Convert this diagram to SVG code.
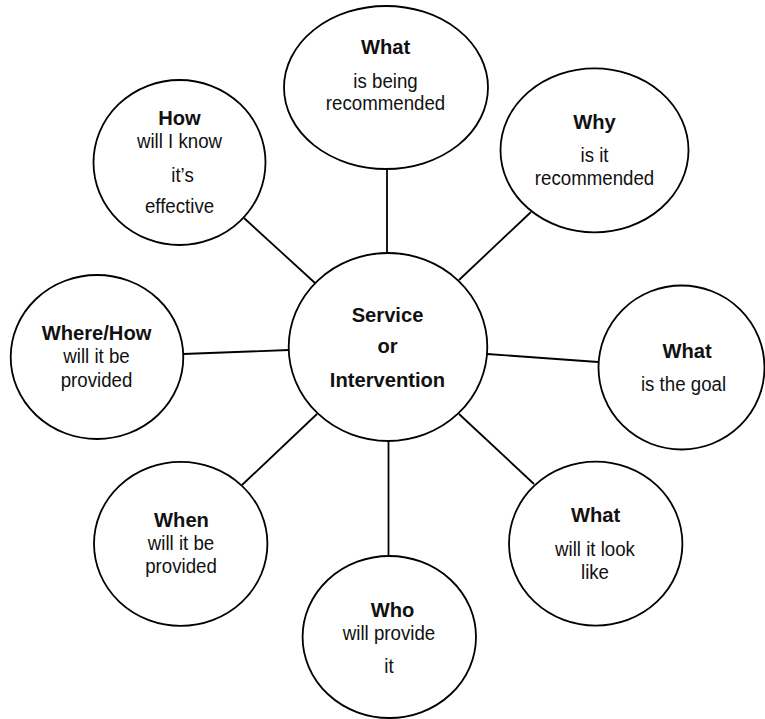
<svg xmlns="http://www.w3.org/2000/svg" width="765" height="719" viewBox="0 0 765 719">
<style>
.n{fill:#fff;stroke:#000;stroke-width:1.8}
.c line{stroke:#000;stroke-width:1.8}
text{font-family:"Liberation Sans",Arial,sans-serif;fill:#111;text-anchor:middle}
.b{font-weight:bold;font-size:21px}
.r{font-size:21px}
</style>
<rect width="765" height="719" fill="#fff"/>
<g class="c" id="connectors">
<line x1="387" y1="169" x2="387" y2="253"/>
<line x1="244" y1="218" x2="315" y2="283"/>
<line x1="531" y1="212" x2="459" y2="280"/>
<line x1="183" y1="354" x2="289" y2="350"/>
<line x1="487" y1="354" x2="598" y2="362"/>
<line x1="459" y1="414" x2="534" y2="484"/>
<line x1="317" y1="414" x2="242" y2="485"/>
<line x1="388.5" y1="441" x2="388.5" y2="556"/>
</g>
<g id="center">
<ellipse class="n" cx="388" cy="347" rx="99.3" ry="94"/>
<text class="b" transform="translate(387.5,321.7) scale(0.96,1)">Service</text>
<text class="b" transform="translate(387.5,353.3) scale(0.96,1)">or</text>
<text class="b" transform="translate(387.5,386.7) scale(0.96,1)">Intervention</text>
</g>
<g id="what-recommended">
<ellipse class="n" cx="386" cy="87.5" rx="102" ry="81.5"/>
<text class="b" transform="translate(385.5,54.3) scale(0.96,1)">What</text>
<text class="r" transform="translate(385.5,87.7) scale(0.89,1)">is being</text>
<text class="r" transform="translate(385.5,110) scale(0.89,1)">recommended</text>
</g>
<g id="how">
<ellipse class="n" cx="179.5" cy="162.5" rx="86" ry="82.5"/>
<text class="b" transform="translate(179.5,125) scale(0.96,1)">How</text>
<text class="r" transform="translate(179.5,147.7) scale(0.89,1)">will I know</text>
<text class="r" transform="translate(182.5,181.7) scale(0.89,1)">it’s</text>
<text class="r" transform="translate(179.5,213.3) scale(0.89,1)">effective</text>
</g>
<g id="why">
<ellipse class="n" cx="594.5" cy="150.3" rx="94" ry="82"/>
<text class="b" transform="translate(594.5,129.3) scale(0.96,1)">Why</text>
<text class="r" transform="translate(594.5,161.7) scale(0.89,1)">is it</text>
<text class="r" transform="translate(594.5,185) scale(0.89,1)">recommended</text>
</g>
<g id="where-how">
<ellipse class="n" cx="97" cy="357" rx="86.3" ry="82"/>
<text class="b" transform="translate(96.5,340) scale(0.96,1)">Where/How</text>
<text class="r" transform="translate(96.5,363.3) scale(0.89,1)">will it be</text>
<text class="r" transform="translate(96.5,386.7) scale(0.89,1)">provided</text>
</g>
<g id="goal">
<ellipse class="n" cx="681.5" cy="367.5" rx="83" ry="82"/>
<text class="b" transform="translate(687,358.3) scale(0.96,1)">What</text>
<text class="r" transform="translate(683.5,391) scale(0.89,1)">is the goal</text>
</g>
<g id="when">
<ellipse class="n" cx="180.7" cy="543.8" rx="86.7" ry="82"/>
<text class="b" transform="translate(181.5,526.7) scale(0.96,1)">When</text>
<text class="r" transform="translate(181,550) scale(0.89,1)">will it be</text>
<text class="r" transform="translate(181,573.3) scale(0.89,1)">provided</text>
</g>
<g id="who">
<ellipse class="n" cx="389.3" cy="637" rx="86.7" ry="81"/>
<text class="b" transform="translate(392.5,616.7) scale(0.96,1)">Who</text>
<text class="r" transform="translate(389,640) scale(0.89,1)">will provide</text>
<text class="r" transform="translate(389,673.3) scale(0.89,1)">it</text>
</g>
<g id="look">
<ellipse class="n" cx="595.7" cy="543.7" rx="86.7" ry="82"/>
<text class="b" transform="translate(595.5,521.7) scale(0.96,1)">What</text>
<text class="r" transform="translate(595,555.7) scale(0.89,1)">will it look</text>
<text class="r" transform="translate(595,579.3) scale(0.89,1)">like</text>
</g>
</svg>
